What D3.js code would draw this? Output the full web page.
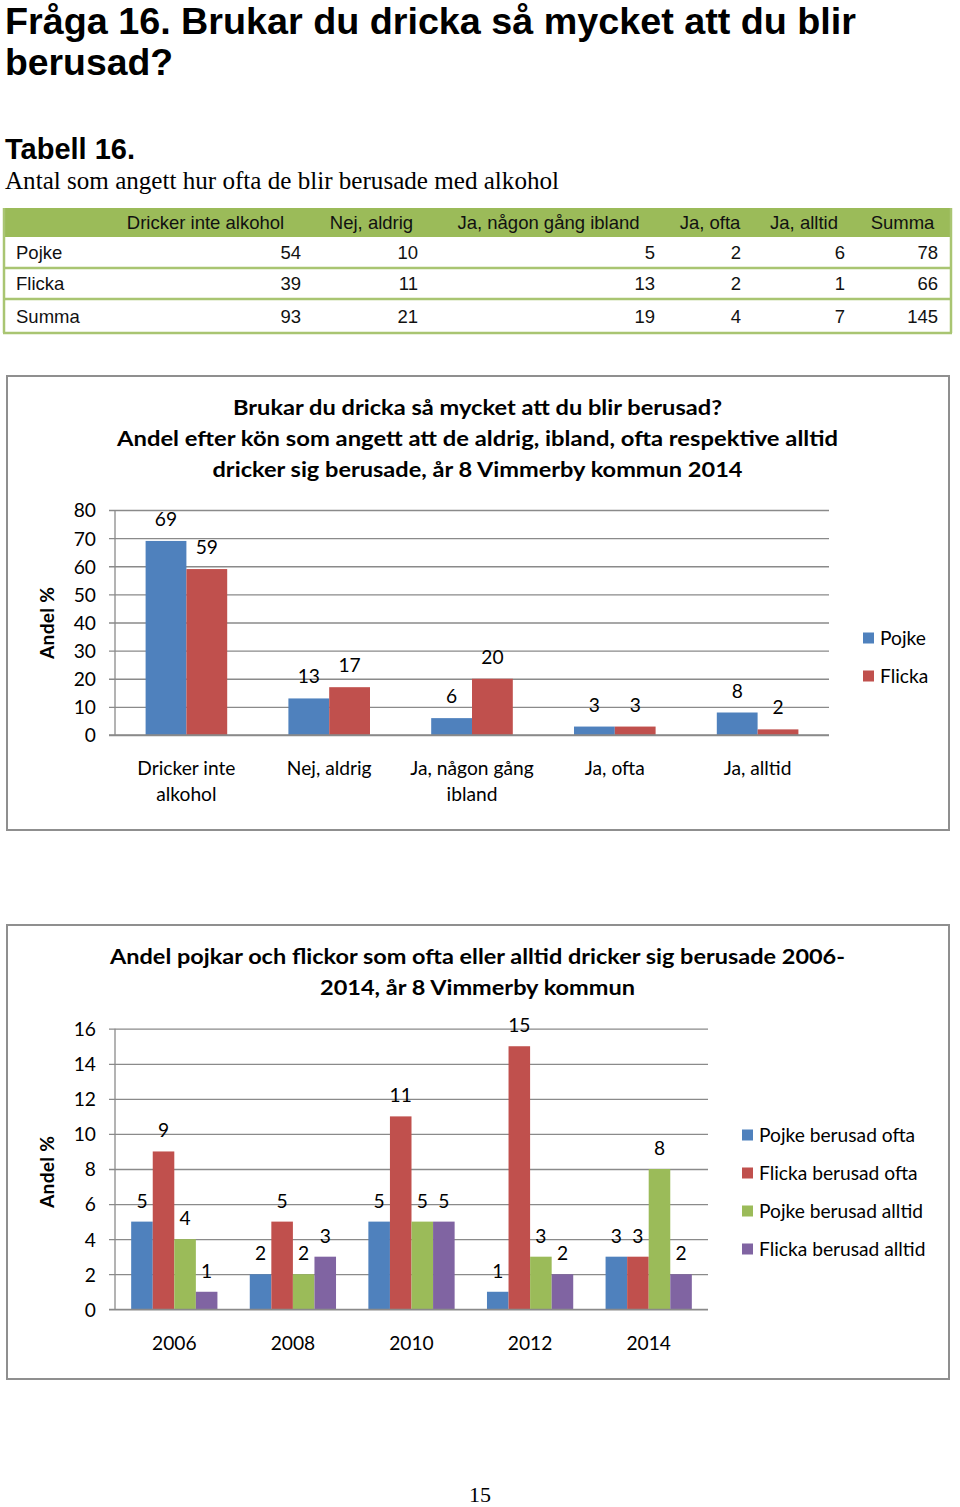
<!DOCTYPE html>
<html><head><meta charset="utf-8">
<script src="https://cdn.jsdelivr.net/npm/d3@7"></script>
<style>body{margin:0;background:#fff}svg{display:block}</style>
</head><body>
<svg id="page" width="960" height="1507"></svg>
<script>
// ---------- DATA ----------
const tableColumns = ["Dricker inte alkohol", "Nej, aldrig", "Ja, någon gång ibland", "Ja, ofta", "Ja, alltid", "Summa"];
const tableRowLabels = ["Pojke", "Flicka", "Summa"];
const tablePojke = [54, 10, 5, 2, 6, 78];
const tableFlicka = [39, 11, 13, 2, 1, 66];
const tableSumma = [93, 21, 19, 4, 7, 145];

const chart1Categories = [["Dricker inte", "alkohol"], ["Nej, aldrig"], ["Ja, någon gång", "ibland"], ["Ja, ofta"], ["Ja, alltid"]];
const chart1SeriesNames = ["Pojke", "Flicka"];
const chart1Pojke = [69, 13, 6, 3, 8];
const chart1Flicka = [59, 17, 20, 3, 2];
const chart1Ticks = [0, 10, 20, 30, 40, 50, 60, 70, 80];

const chart2Years = ["2006", "2008", "2010", "2012", "2014"];
const chart2SeriesNames = ["Pojke berusad ofta", "Flicka berusad ofta", "Pojke berusad alltid", "Flicka berusad alltid"];
const chart2PojkeOfta = [5, 2, 5, 1, 3];
const chart2FlickaOfta = [9, 5, 11, 15, 3];
const chart2PojkeAlltid = [4, 2, 5, 3, 8];
const chart2FlickaAlltid = [1, 3, 5, 2, 2];
const chart2Ticks = [0, 2, 4, 6, 8, 10, 12, 14, 16];

// ---------- STYLE ----------
const COLORS = ["#4F81BD", "#C0504D", "#9BBB59", "#8064A2"];
const CHART_FONT = "Lato, 'Open Sans', sans-serif";
const GRID = "#8a8a8a";
const svg = d3.select("#page");

// ---------- PAGE HEADINGS ----------
const heading = svg.append("g").attr("font-family", "'Liberation Sans', Arial, sans-serif").attr("fill", "#000");
heading.append("text").attr("x", 5).attr("y", 34).attr("font-size", 36).attr("font-weight", "bold")
  .attr("textLength", 851).attr("lengthAdjust", "spacingAndGlyphs")
  .text("Fråga 16. Brukar du dricka så mycket att du blir");
heading.append("text").attr("x", 5).attr("y", 75).attr("font-size", 36).attr("font-weight", "bold")
  .attr("textLength", 168).attr("lengthAdjust", "spacingAndGlyphs")
  .text("berusad?");
heading.append("text").attr("x", 5).attr("y", 159).attr("font-size", 29).attr("font-weight", "bold")
  .text("Tabell 16.");
svg.append("text").attr("x", 5).attr("y", 189).attr("font-size", 25)
  .attr("font-family", "'Liberation Serif', 'Times New Roman', serif")
  .attr("textLength", 554).attr("lengthAdjust", "spacingAndGlyphs")
  .text("Antal som angett hur ofta de blir berusade med alkohol");

// ---------- TABLE ----------
(function drawTable() {
  const tbl = svg.append("g").attr("font-family", "'Liberation Sans', Arial, sans-serif").attr("font-size", 18.5);
  const left = 3, right = 952;
  const rowEdges = [208, 237, 268, 299, 333];
  const headerCenters = [205.5, 371.5, 548.5, 710, 804, 902.5];
  const numRight = [301, 418, 655, 741, 845, 938];
  const rows = [tablePojke, tableFlicka, tableSumma];
  const green = "#9BBB59", lineGreen = "#A9C572";

  tbl.append("rect").attr("x", left).attr("y", rowEdges[0]).attr("width", right - left)
    .attr("height", rowEdges[1] - rowEdges[0]).attr("fill", green);
  rowEdges.slice(2).forEach(y => tbl.append("line").attr("x1", left).attr("x2", right)
    .attr("y1", y).attr("y2", y).attr("stroke", lineGreen).attr("stroke-width", 2.5));
  [left + 1, right - 1].forEach(x => tbl.append("line").attr("x1", x).attr("x2", x)
    .attr("y1", rowEdges[0]).attr("y2", rowEdges[4]).attr("stroke", lineGreen).attr("stroke-width", 2.5));

  tableColumns.forEach((c, i) => tbl.append("text").attr("x", headerCenters[i])
    .attr("y", (rowEdges[0] + rowEdges[1]) / 2 + 6.5).attr("text-anchor", "middle").attr("fill", "#111").text(c));
  tableRowLabels.forEach((r, ri) => {
    const yb = (rowEdges[ri + 1] + rowEdges[ri + 2]) / 2 + 6.5;
    tbl.append("text").attr("x", 16).attr("y", yb).attr("fill", "#111").text(r);
    rows[ri].forEach((v, ci) => tbl.append("text").attr("x", numRight[ci]).attr("y", yb)
      .attr("text-anchor", "end").attr("fill", "#111").text(v));
  });
})();

// ---------- GENERIC BAR CHART ----------
function barChart(opt) {
  const g = svg.append("g").attr("font-family", CHART_FONT).attr("fill", "#000");
  g.append("rect").attr("x", opt.frame[0]).attr("y", opt.frame[1]).attr("width", opt.frame[2])
    .attr("height", opt.frame[3]).attr("fill", "#fff").attr("stroke", "#8f8f8f").attr("stroke-width", 2);
  opt.title.forEach((t, i) => g.append("text").attr("x", opt.titleX).attr("y", opt.titleY[i])
    .attr("text-anchor", "middle").attr("font-size", opt.titleSize).attr("font-weight", "bold")
    .attr("textLength", opt.titleWidths[i]).attr("lengthAdjust", "spacingAndGlyphs").text(t));

  const y = d3.scaleLinear().domain(opt.yDomain).range([opt.plot.bottom, opt.plot.top]);
  const x0 = d3.scaleBand().domain(d3.range(opt.categories.length)).range([opt.plot.left, opt.plot.right]);
  const nSeries = opt.series.length;
  const barW = x0.bandwidth() / (nSeries + 1.5);
  const x1 = d3.scaleBand().domain(d3.range(nSeries))
    .range([(x0.bandwidth() - barW * nSeries) / 2, (x0.bandwidth() + barW * nSeries) / 2]);

  const yAxis = d3.axisLeft(y).tickValues(opt.ticks).tickSize(-(opt.plot.right - opt.plot.left)).tickPadding(0).tickFormat(d3.format("d"));
  const ax = g.append("g").attr("transform", `translate(${opt.plot.left},0)`).call(yAxis);
  ax.select(".domain").remove();
  ax.selectAll(".tick line").attr("stroke", GRID).attr("stroke-width", 1.3).attr("x1", -6);
  ax.selectAll(".tick text").attr("x", -19).attr("dy", "0.36em").attr("font-size", opt.fontSize)
    .attr("font-family", CHART_FONT).attr("fill", "#000");
  g.append("line").attr("x1", opt.plot.left).attr("x2", opt.plot.left).attr("y1", opt.plot.top)
    .attr("y2", opt.plot.bottom).attr("stroke", GRID).attr("stroke-width", 1.3);

  opt.series.forEach((vals, si) => {
    const sg = g.append("g").attr("fill", COLORS[si]);
    sg.selectAll("rect").data(vals).join("rect")
      .attr("x", (d, i) => x0(i) + x1(si)).attr("width", barW)
      .attr("y", d => y(d)).attr("height", d => y(0) - y(d));
    g.append("g").selectAll("text").data(vals).join("text")
      .attr("x", (d, i) => x0(i) + x1(si) + barW / 2).attr("y", d => y(d) - opt.labelOffset)
      .attr("text-anchor", "middle").attr("font-size", opt.fontSize).text(d => d);
  });
  g.append("line").attr("x1", opt.plot.left - 6).attr("x2", opt.plot.right).attr("y1", y(0)).attr("y2", y(0))
    .attr("stroke", GRID).attr("stroke-width", 1.3);

  opt.categories.forEach((lines, i) => {
    const arr = Array.isArray(lines) ? lines : [lines];
    arr.forEach((l, li) => g.append("text").attr("x", x0(i) + x0.bandwidth() / 2)
      .attr("y", opt.catY + li * opt.catLine).attr("text-anchor", "middle").attr("font-size", opt.fontSize).text(l));
  });

  g.append("text").attr("transform", `translate(${opt.yTitle[0]},${opt.yTitle[1]}) rotate(-90)`)
    .attr("text-anchor", "middle").attr("dy", "0.36em").attr("font-weight", "bold").attr("font-size", opt.fontSize)
    .attr("textLength", 72).attr("lengthAdjust", "spacing")
    .text("Andel %");

  opt.legendNames.forEach((n, i) => {
    const cy = opt.legend.y + i * opt.legend.step;
    g.append("rect").attr("x", opt.legend.x).attr("y", cy - 5.5).attr("width", 11).attr("height", 11).attr("fill", COLORS[i]);
    g.append("text").attr("x", opt.legend.x + 17).attr("y", cy).attr("dy", "0.36em").attr("font-size", opt.fontSize).text(n);
  });
}

barChart({
  frame: [7, 376, 942, 454],
  title: ["Brukar du dricka så mycket att du blir berusad?",
          "Andel efter kön som angett att de aldrig, ibland, ofta respektive alltid",
          "dricker sig berusade, år 8 Vimmerby kommun 2014"],
  titleX: 477.5, titleY: [415, 446, 477], titleSize: 20.5, titleWidths: [489, 721, 530],
  plot: { left: 115, right: 829, top: 510, bottom: 735 },
  yDomain: [0, 80], ticks: chart1Ticks,
  categories: chart1Categories,
  series: [chart1Pojke, chart1Flicka],
  legendNames: chart1SeriesNames,
  labelOffset: 15, fontSize: 19.2,
  catY: 775, catLine: 26,
  yTitle: [47, 623],
  legend: { x: 863, y: 638, step: 38 }
});

barChart({
  frame: [7, 925, 942, 454],
  title: ["Andel pojkar och flickor som ofta eller alltid dricker sig berusade 2006-",
          "2014, år 8 Vimmerby kommun"],
  titleX: 477.5, titleY: [964, 995], titleSize: 20.5, titleWidths: [735, 315],
  plot: { left: 115, right: 708, top: 1028.7, bottom: 1309.3 },
  yDomain: [0, 16], ticks: chart2Ticks,
  categories: chart2Years,
  series: [chart2PojkeOfta, chart2FlickaOfta, chart2PojkeAlltid, chart2FlickaAlltid],
  legendNames: chart2SeriesNames,
  labelOffset: 14, fontSize: 19.2,
  catY: 1350, catLine: 26,
  yTitle: [47, 1172],
  legend: { x: 742, y: 1135, step: 38 }
});

svg.append("text").attr("x", 480).attr("y", 1502).attr("text-anchor", "middle").attr("font-size", 22)
  .attr("font-family", "'Liberation Serif', 'Times New Roman', serif").text("15");
</script>
</body></html>
